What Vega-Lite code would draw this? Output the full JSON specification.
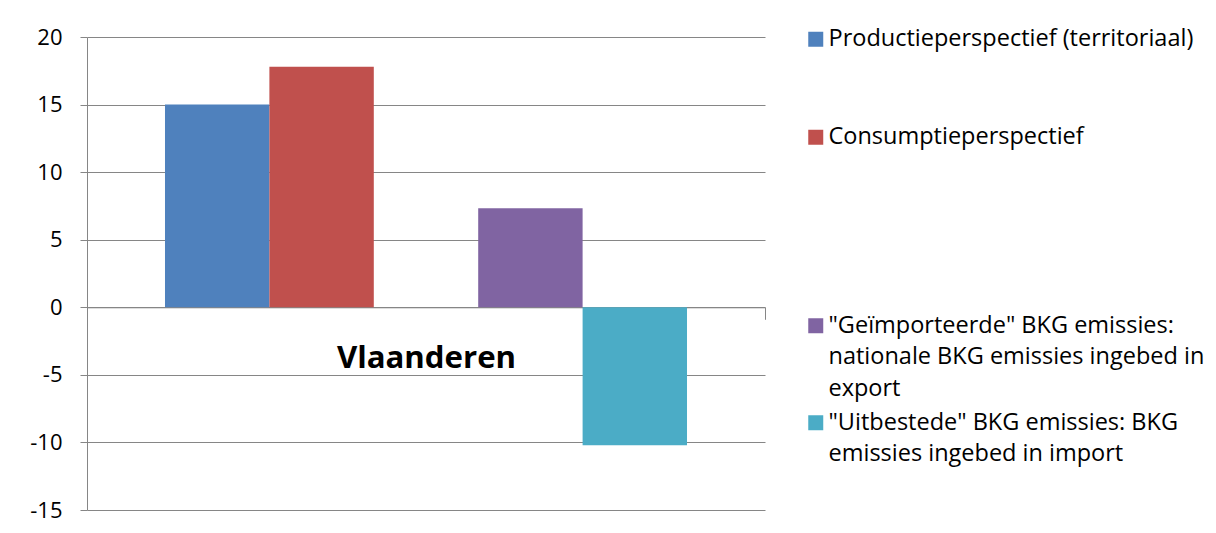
{
  "$schema": "https://vega.github.io/schema/vega-lite/v6.json",
  "width": 678,
  "height": 473,
  "autosize": "none",
  "padding": {"left": 87, "top": 37, "right": 451, "bottom": 23},
  "background": "white",
  "config": {
    "view": {"stroke": null},
    "font": "Open Sans",
    "style": {"guide-label": {"lineHeight": 31.5}}
  },
  "data": {
    "values": [
      {"region": "Vlaanderen", "series": "Productieperspectief (territoriaal)", "value": 15.0, "group": "a"},
      {"region": "Vlaanderen", "series": "Consumptieperspectief", "value": 17.8, "group": "a"},
      {"region": "Vlaanderen", "series": "\"Geïmporteerde\" BKG emissies: nationale BKG emissies ingebed in export", "value": 7.33, "group": "b"},
      {"region": "Vlaanderen", "series": "\"Uitbestede\" BKG emissies: BKG emissies ingebed in import", "value": -10.2, "group": "b"}
    ]
  },
  "encoding": {
    "x": {
      "field": "region",
      "type": "nominal",
      "scale": {"paddingInner": 0, "paddingOuter": 0},
      "axis": {
        "title": null,
        "offset": -202.71,
        "tickBand": "extent",
        "domainColor": "#868686",
        "tickColor": "#868686",
        "tickSize": 12,
        "labelAngle": 0,
        "labelFont": "Open Sans",
        "labelFontWeight": "bold",
        "labelFontSize": 31.2,
        "labelColor": "#000000",
        "labelBaseline": "alphabetic",
        "labelPadding": 48,
        "grid": false
      }
    },
    "xOffset": {
      "field": "series",
      "type": "nominal",
      "scale": {
        "domain": [
          "Productieperspectief (territoriaal)",
          "Consumptieperspectief",
          "gap",
          "\"Geïmporteerde\" BKG emissies: nationale BKG emissies ingebed in export",
          "\"Uitbestede\" BKG emissies: BKG emissies ingebed in import"
        ],
        "paddingInner": 0,
        "paddingOuter": 0.747
      }
    },
    "y": {
      "field": "value",
      "type": "quantitative",
      "scale": {"domain": [-15, 20], "nice": false, "zero": false},
      "axis": {
        "title": null,
        "values": [-15, -10, -5, 0, 5, 10, 15, 20],
        "labelExpr": "toString(datum.value)",
        "grid": true,
        "gridColor": "#868686",
        "gridOpacity": 1,
        "domainColor": "#868686",
        "tickColor": "#868686",
        "tickSize": 7,
        "labelFontSize": 22,
        "labelColor": "#000000",
        "labelPadding": 18
      }
    }
  },
  "layer": [
    {
      "transform": [{"filter": "datum.group === 'a'"}],
      "mark": {"type": "bar"},
      "encoding": {
        "color": {
          "field": "series",
          "type": "nominal",
          "scale": {
            "domain": ["Productieperspectief (territoriaal)", "Consumptieperspectief"],
            "range": ["#4F81BD", "#C0504D"]
          },
          "legend": {
            "title": null,
            "orient": "none",
            "legendX": 717,
            "legendY": -9.5,
            "padding": 0,
            "symbolType": "square",
            "symbolSize": 225,
            "symbolStrokeWidth": 0,
            "symbolOpacity": 1,
            "labelFontSize": 23.5,
            "labelColor": "#000000",
            "labelOffset": 1,
            "labelLimit": 500,
            "rowPadding": 73
          }
        }
      }
    },
    {
      "transform": [{"filter": "datum.group === 'b'"}],
      "mark": {"type": "bar"},
      "encoding": {
        "fill": {
          "field": "series",
          "type": "nominal",
          "scale": {
            "domain": [
              "\"Geïmporteerde\" BKG emissies: nationale BKG emissies ingebed in export",
              "\"Uitbestede\" BKG emissies: BKG emissies ingebed in import"
            ],
            "range": ["#8064A2", "#4BACC6"]
          },
          "legend": {
            "title": null,
            "orient": "none",
            "legendX": 717,
            "legendY": 277,
            "padding": 0,
            "symbolType": "square",
            "symbolSize": 225,
            "symbolStrokeWidth": 0,
            "symbolOpacity": 1,
            "labelFontSize": 23.5,
            "labelColor": "#000000",
            "labelOffset": 1,
            "labelLimit": 500,
            "rowPadding": 9,
            "labelExpr": "indexof(datum.label, 'Uitbestede') >= 0 ? ['\"Uitbestede\" BKG emissies: BKG', 'emissies ingebed in import'] : ['\"Geïmporteerde\" BKG emissies:', 'nationale BKG emissies ingebed in', 'export']"
          }
        }
      }
    }
  ]
}
